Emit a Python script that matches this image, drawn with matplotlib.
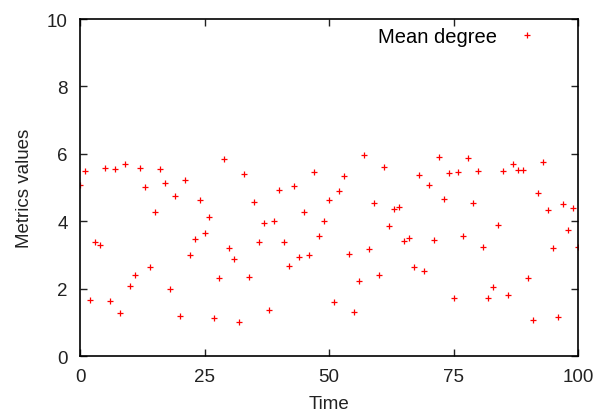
import matplotlib
matplotlib.use("Agg")
import matplotlib.pyplot as plt
import numpy as np

plt.rcParams['font.family'] = ['Liberation Sans', 'DejaVu Sans']

time = list(range(0, 101))
mean_degree = [
    5.07, 5.49, 1.66, 3.37, 3.29, 5.59, 1.63, 5.54, 1.29, 5.69,
    2.09, 2.41, 5.59, 5.01, 2.64, 4.27, 5.56, 5.13, 1.98, 4.76,
    1.18, 5.22, 2.99, 3.48, 4.62, 3.64, 4.11, 1.13, 2.32, 5.84,
    3.20, 2.88, 1.02, 5.41, 2.34, 4.56, 3.39, 3.94, 1.36, 4.00,
    4.94, 3.39, 2.66, 5.05, 2.95, 4.26, 3.01, 5.47, 3.55, 4.00,
    4.63, 1.61, 4.91, 5.33, 3.02, 1.31, 2.22, 5.96, 3.18, 4.53,
    2.40, 5.61, 3.86, 4.35, 4.41, 3.42, 3.49, 2.63, 5.38, 2.51,
    5.07, 3.45, 5.91, 4.67, 5.42, 1.71, 5.47, 3.56, 5.87, 4.53,
    5.50, 3.23, 1.72, 2.06, 3.88, 5.50, 1.80, 5.71, 5.52, 5.53,
    2.32, 1.06, 4.83, 5.77, 4.34, 3.20, 1.17, 4.51, 3.74, 4.38,
    3.24,
]
xticks = [0, 25, 50, 75, 100]
yticks = [0, 2, 4, 6, 8, 10]

fig = plt.figure(figsize=(5.95, 4.14), dpi=100)
ax = fig.add_axes([80/595, 1-357/414, (578-80)/595, (357-20)/414])
ax.plot(time, mean_degree, linestyle='none', marker='+', color='#ff0000',
        markersize=5, markeredgewidth=0.9, label='Mean degree')
ax.set_xlim(0, 100)
ax.set_ylim(0, 10)
ax.set_xticks(xticks)
ax.set_yticks(yticks)
ax.tick_params(direction='in', top=True, right=True, length=5, width=1,
               labelsize=13.5, pad=9, colors='#222222')
for s in ax.spines.values():
    s.set_linewidth(1.2)
ax.set_xlabel('Time', fontsize=13.5, color='#222222', labelpad=7)
ax.set_ylabel('Metrics values', fontsize=13.5, color='#222222', labelpad=10)
leg = ax.legend(loc='upper right', frameon=False, markerfirst=False,
                fontsize=14.5, handlelength=1.5, handletextpad=0.75,
                borderaxespad=0.0, bbox_to_anchor=(0.944, 1.0))
fig.savefig('out.png', dpi=100)
